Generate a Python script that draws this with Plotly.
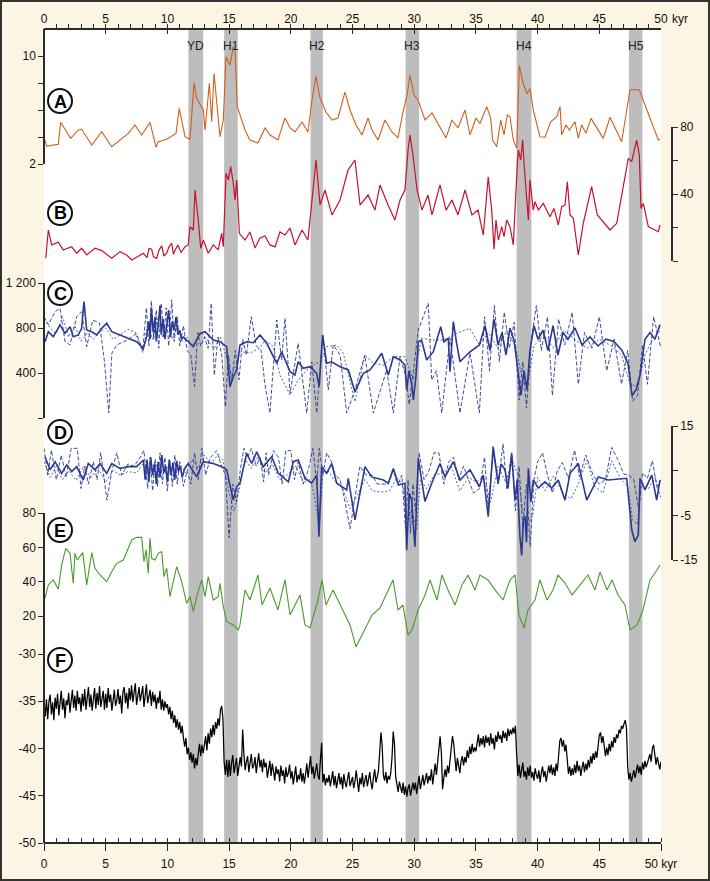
import plotly.graph_objects as go

# ---------------- data (ages in kyr before present) ----------------
event_names = ["YD", "H1", "H2", "H3", "H4", "H5"]
event_start = [11.7, 14.6, 21.6, 29.3, 38.3, 47.4]
event_end = [12.9, 15.7, 22.6, 30.4, 39.5, 48.5]

# A
a_age = [0.08, 0.22, 1.16, 1.35, 2.16, 2.78, 3.05, 3.87, 4.68, 5.49,
         6.83, 7.37, 7.92, 8.59, 9.08, 9.26, 9.94, 10.70, 10.96, 11.43,
         11.83, 12.16, 12.37, 12.91, 13.05, 13.40, 13.59, 13.78, 14.26, 14.53,
         14.75, 15.07, 15.34, 15.48, 15.66, 16.29, 16.69, 17.34, 17.91, 18.31,
         18.96, 19.53, 19.94, 20.34, 20.91, 21.39, 21.72, 22.04, 22.37, 22.85,
         23.34, 23.82, 24.39, 24.80, 25.28, 25.77, 26.26, 26.58, 27.07, 27.63,
         28.20, 28.69, 29.09, 29.42, 29.66, 29.98, 30.31, 30.88, 31.44, 32.09,
         32.58, 33.06, 33.55, 34.12, 34.52, 35.01, 35.33, 35.88, 36.20, 36.36,
         36.69, 37.01, 37.28, 37.54, 37.76, 38.03, 38.31, 38.52, 38.82, 39.14,
         39.38, 39.65, 40.19, 40.60, 41.06, 41.55, 41.82, 41.95, 42.30, 42.57,
         43.03, 43.30, 43.57, 43.92, 44.33, 45.32, 45.87, 46.81, 47.49, 48.24,
         49.78, 49.92]
a_val = [3.78, 3.33, 3.46, 5.09, 3.90, 4.52, 4.57, 3.40, 4.39, 3.28,
         4.27, 4.89, 4.15, 5.09, 3.24, 3.65, 3.83, 4.27, 6.12, 4.02,
         3.83, 8.02, 6.87, 6.00, 4.52, 7.98, 5.13, 8.72, 4.02, 5.26,
         9.95, 9.33, 10.70, 10.44, 6.25, 4.52, 3.78, 3.56, 4.67, 4.15,
         3.78, 5.41, 4.67, 4.37, 5.11, 4.37, 6.74, 8.52, 6.89, 5.85,
         5.26, 5.41, 7.33, 6.00, 4.89, 4.15, 5.41, 4.52, 3.78, 5.26,
         4.37, 3.93, 5.85, 7.11, 8.59, 7.11, 6.74, 5.26, 5.78, 4.67,
         3.93, 5.26, 4.67, 6.00, 4.15, 5.41, 5.00, 6.25, 5.38, 3.78,
         3.28, 5.26, 4.15, 5.63, 5.50, 3.78, 3.16, 9.30, 8.00, 7.20,
         7.60, 6.00, 4.02, 3.98, 5.13, 5.50, 6.25, 4.15, 4.89, 4.52,
         5.13, 3.90, 4.89, 4.27, 5.38, 3.90, 5.46, 3.65, 7.50, 7.50,
         3.78, 3.83]

# B
b_age = [0.14, 0.35, 0.62, 1.16, 1.56, 2.24, 2.65, 3.05, 3.46, 4.13,
         4.68, 5.49, 6.16, 6.70, 7.11, 7.64, 8.05, 8.35, 8.51, 8.73,
         8.87, 9.13, 9.32, 9.54, 9.72, 9.94, 10.13, 10.35, 10.49, 10.62,
         10.86, 11.10, 11.43, 11.69, 11.83, 12.10, 12.24, 12.50, 12.70, 12.91,
         13.31, 13.72, 14.12, 14.40, 14.53, 14.75, 14.94, 15.13, 15.34, 15.48,
         15.62, 15.83, 16.29, 16.69, 17.10, 17.50, 17.91, 18.31, 18.72, 19.12,
         19.53, 19.94, 20.34, 20.91, 21.39, 21.72, 22.04, 22.37, 22.77, 23.34,
         23.99, 24.64, 25.20, 25.61, 26.26, 26.82, 27.23, 27.88, 28.44, 28.85,
         29.25, 29.50, 29.66, 29.90, 30.23, 30.63, 31.12, 31.44, 32.09, 32.58,
         33.06, 33.55, 34.12, 34.68, 35.17, 35.60, 36.00, 36.28, 36.47, 36.63,
         36.82, 37.09, 37.28, 37.50, 37.76, 38.03, 38.17, 38.36, 38.44, 38.63,
         38.79, 38.92, 39.25, 39.38, 39.65, 39.79, 40.06, 40.46, 41.00, 41.33,
         41.68, 41.95, 42.22, 42.41, 42.63, 42.90, 43.30, 43.70, 44.38, 44.84,
         45.87, 46.41, 47.35, 47.62, 48.03, 48.24, 48.38, 48.57, 48.97, 49.78,
         49.92]
b_val = [1.6, 18.5, 9.6, 11.2, 6.6, 8.5, 4.6, 7.6, 3.6, 7.6,
         6.2, 1.6, 5.6, 3.6, 0.6, 2.6, 4.6, 2.0, 7.5, 7.0,
         2.5, 1.6, 6.5, 9.0, 3.0, 4.6, 8.5, 10.6, 4.0, 6.6,
         9.5, 5.0, 8.5, 9.6, 20.5, 18.5, 42.4, 24.5, 7.6, 12.5,
         4.6, 9.6, 6.6, 16.5, 8.5, 52.4, 48.4, 56.3, 46.4, 36.4,
         48.4, 16.5, 12.5, 17.3, 7.8, 13.7, 14.9, 9.6, 8.4, 17.3,
         15.5, 19.7, 9.6, 18.5, 12.5, 36.4, 60.3, 33.4, 42.4, 27.5,
         36.4, 54.3, 60.3, 33.4, 39.4, 30.4, 45.4, 33.4, 24.5, 36.4,
         42.4, 66.3, 75.2, 63.3, 42.4, 30.4, 39.4, 27.5, 45.4, 30.4,
         36.4, 27.5, 42.4, 27.5, 30.4, 15.5, 50.3, 30.4, 7.0, 24.5,
         12.5, 20.5, 14.5, 24.5, 20.5, 9.6, 32.4, 58.3, 66.3, 60.3,
         72.2, 56.3, 24.5, 48.4, 30.4, 35.4, 30.4, 34.4, 26.4, 31.4,
         21.5, 32.4, 33.4, 47.3, 27.5, 25.5, 3.6, 22.5, 44.4, 27.5,
         18.5, 22.5, 61.3, 59.3, 72.2, 63.3, 31.4, 34.4, 20.5, 17.5,
         21.5]

# C: solid, dashed, dotted records
c_age = [0.08, 0.35, 0.75, 1.30, 1.70, 2.11, 2.37, 2.78, 3.05, 3.24,
         3.46, 3.87, 4.27, 4.68, 5.08, 5.49, 6.16, 6.83, 7.51, 8.05,
         8.32, 8.50, 8.60, 8.70, 8.85, 9.00, 9.10, 9.25, 9.40, 9.50,
         9.65, 9.80, 9.95, 10.10, 10.25, 10.40, 10.55, 10.70, 10.85, 11.00,
         11.15, 11.30, 11.56, 12.10, 12.64, 13.05, 13.72, 14.26, 14.80, 15.07,
         15.34, 15.62, 15.88, 16.43, 16.96, 17.50, 18.05, 18.86, 19.26, 19.94,
         20.34, 20.60, 21.00, 21.56, 22.10, 22.30, 22.58, 22.90, 23.30, 23.99,
         24.66, 25.20, 25.88, 26.42, 26.82, 27.37, 27.90, 28.31, 28.85, 29.25,
         29.39, 29.58, 29.80, 29.93, 30.15, 30.33, 30.60, 31.01, 31.55, 32.15,
         32.41, 32.76, 32.90, 33.17, 33.44, 33.71, 34.52, 35.28, 35.74, 36.14,
         36.47, 36.79, 37.12, 37.44, 37.76, 38.09, 38.41, 38.65, 38.90, 39.14,
         39.38, 39.71, 40.03, 40.44, 40.84, 41.25, 41.65, 42.06, 42.46, 43.03,
         43.60, 44.25, 44.89, 45.54, 46.19, 46.84, 47.33, 47.65, 47.97, 48.30,
         48.70, 49.11, 49.51, 49.92]
c_val = [678, 767, 723, 827, 753, 812, 723, 738, 797, 1034,
         782, 767, 738, 797, 842, 767, 738, 708, 678, 619,
         723, 860, 700, 980, 760, 900, 680, 820, 1000, 740,
         880, 700, 820, 960, 720, 860, 780, 900, 740, 780,
         700, 720, 693, 634, 753, 767, 693, 678, 634, 278,
         367, 427, 649, 678, 669, 738, 664, 486, 589, 412,
         382, 500, 442, 456, 397, 278, 738, 486, 500, 456,
         427, 234, 397, 427, 486, 575, 382, 545, 516, 471,
         249, 420, 300, 160, 380, 678, 693, 516, 589, 812,
         678, 708, 412, 856, 664, 500, 589, 649, 820, 600,
         880, 650, 760, 560, 800, 690, 420, 200, 420, 250,
         600, 820, 700, 780, 600, 820, 560, 760, 700, 800,
         650, 720, 640, 700, 680, 600, 480, 200, 250, 380,
         700, 760, 700, 830]

cd_age = [0.00, 0.35, 0.90, 1.30, 1.70, 2.10, 2.65, 3.05, 3.46, 3.95,
          4.50, 4.90, 5.25, 5.50, 5.90, 6.70, 7.50, 8.00, 8.30, 8.50,
          8.70, 8.90, 9.10, 9.30, 9.50, 9.70, 9.90, 10.10, 10.35, 10.55,
          10.80, 11.00, 11.30, 11.60, 11.90, 12.20, 12.45, 12.70, 13.00, 13.30,
          13.55, 13.80, 14.10, 14.40, 14.70, 14.95, 15.20, 15.50, 15.80, 16.10,
          16.40, 16.80, 17.20, 17.60, 17.90, 18.31, 18.86, 19.26, 19.53, 19.94,
          20.60, 21.29, 21.70, 22.10, 22.58, 23.04, 23.44, 24.00, 24.53, 25.20,
          26.00, 26.69, 27.77, 28.31, 28.85, 29.30, 29.60, 29.90, 30.33, 31.14,
          31.42, 31.80, 32.23, 32.90, 33.71, 34.52, 35.28, 35.70, 36.10, 36.50,
          36.90, 37.30, 37.70, 38.10, 38.50, 38.80, 39.10, 39.50, 39.90, 40.30,
          40.80, 41.20, 41.70, 42.20, 42.80, 43.30, 43.80, 44.40, 45.00, 45.60,
          46.20, 46.80, 47.30, 47.70, 48.10, 48.50, 48.90, 49.40, 50.00]
cd_val = [900, 830, 945, 975, 680, 650, 900, 945, 634, 870,
          845, 500, 45, 575, 650, 690, 750, 600, 980, 640,
          1040, 700, 960, 620, 1020, 720, 980, 640, 1050, 680,
          900, 640, 820, 600, 560, 280, 760, 640, 720, 620,
          1020, 380, 720, 560, 100, 560, 320, 600, 340, 700,
          560, 900, 640, 600, 300, 44, 871, 516, 887, 220,
          664, 44, 500, 44, 738, 249, 649, 560, 44, 249,
          560, 44, 427, 44, 545, 380, 120, 400, 782, 1020,
          338, 420, 44, 711, 44, 578, 44, 900, 420, 1000,
          500, 940, 620, 850, 160, 500, 90, 700, 1000, 600,
          900, 200, 880, 650, 940, 300, 760, 620, 900, 420,
          700, 300, 600, 150, 200, 650, 300, 900, 620]

ct_age = [0.0, 0.5, 1.0, 1.5, 2.0, 2.5, 3.0, 3.5, 4.0, 4.5,
          5.0, 5.6, 6.2, 6.8, 7.4, 8.0, 8.4, 8.8, 9.2, 9.6,
          10.0, 10.4, 10.8, 11.2, 11.6, 12.0, 12.4, 12.8, 13.3, 13.8,
          14.3, 14.8, 15.2, 15.6, 15.88, 16.69, 17.5, 17.91, 18.58, 19.12,
          19.94, 20.6, 21.56, 22.37, 22.91, 23.72, 24.26, 25.2, 26.01, 26.69,
          27.5, 28.31, 29.25, 29.93, 30.6, 31.55, 32.36, 33.44, 34.52, 35.28,
          36.0, 36.8, 37.5, 38.2, 38.7, 39.2, 39.7, 40.5, 41.3, 42.1,
          43.0, 44.0, 45.0, 46.0, 46.8, 47.5, 48.1, 48.7, 49.4, 50.0]
ct_val = [880, 800, 750, 900, 720, 820, 680, 760, 700, 760,
          800, 700, 740, 790, 760, 580, 840, 700, 880, 720,
          860, 700, 820, 680, 720, 640, 700, 760, 680, 620,
          720, 520, 380, 480, 589, 578, 622, 693, 634, 382,
          204, 338, 456, 500, 634, 649, 575, 145, 560, 486,
          471, 545, 545, 338, 708, 693, 693, 753, 797, 649,
          760, 620, 780, 640, 380, 300, 640, 740, 620, 780,
          700, 620, 700, 640, 560, 300, 280, 560, 720, 780]

# D: solid, dashed, dotted records
d_age = [0.08, 0.49, 0.90, 1.43, 1.84, 2.24, 2.65, 3.18, 3.59, 4.13,
         4.54, 5.08, 5.49, 6.16, 6.83, 7.51, 8.05, 8.20, 8.35, 8.50,
         8.65, 8.80, 8.95, 9.10, 9.25, 9.40, 9.55, 9.70, 9.85, 10.00,
         10.15, 10.30, 10.45, 10.60, 10.75, 10.90, 11.05, 11.20, 11.40, 11.69,
         12.37, 12.91, 13.72, 14.40, 14.80, 15.34, 15.62, 15.88, 16.43, 16.83,
         17.24, 17.77, 18.45, 18.99, 19.80, 20.20, 20.61, 21.15, 21.69, 22.10,
         22.28, 22.50, 22.91, 23.31, 23.72, 24.53, 24.66, 25.20, 26.01, 26.55,
         27.50, 27.90, 28.31, 28.72, 29.25, 29.39, 29.60, 29.80, 29.90, 30.06,
         30.33, 30.87, 31.42, 32.09, 32.50, 33.17, 33.71, 34.52, 35.28, 35.60,
         36.00, 36.40, 36.80, 37.05, 37.36, 37.60, 37.90, 38.17, 38.35, 38.57,
         38.71, 38.85, 38.98, 39.10, 39.25, 39.45, 39.65, 40.06, 40.60, 41.14,
         41.68, 42.22, 42.63, 43.30, 43.98, 44.92, 45.73, 47.22, 47.63, 47.89,
         48.16, 48.30, 48.70, 49.25, 49.65, 49.92]
d_val = [8.1, 5.2, 7.0, 4.4, 6.3, 4.8, 5.9, 2.9, 6.6, 5.2,
         6.6, 4.4, 6.6, 5.5, 5.9, 5.9, 7.4, 3.0, 7.5, 2.5,
         8.0, 4.0, 6.5, 2.0, 7.0, 3.5, 8.5, 4.5, 6.0, 2.5,
         7.5, 4.0, 6.8, 3.0, 7.2, 4.8, 6.0, 3.5, 5.5, 6.6,
         3.6, 7.0, 6.6, 5.9, 5.2, -1.6, 1.4, 2.2, 8.9, 6.6,
         9.2, 5.9, 8.1, 4.4, 2.5, 7.0, 7.4, 3.3, 2.2, 4.0,
         -9.8, 5.9, 4.4, 6.6, 2.2, 0.7, 3.3, -6.0, 5.9, 3.6,
         2.9, 2.2, 5.5, 1.8, 2.2, -12.8, 0.0, -1.6, -6.0, -12.0,
         7.8, -1.9, 2.2, 6.6, 3.6, 7.0, 2.9, 5.2, 1.4, 4.0,
         -5.3, 10.4, 2.2, 6.5, 5.2, 1.0, 8.9, -1.6, 3.0, -9.8,
         -14.0, -6.0, -5.3, -11.0, 5.5, -2.0, 2.9, 1.1, 2.5, 1.1,
         2.9, -1.6, 4.4, 6.6, -1.6, 3.6, 2.9, 3.3, -8.3, -10.9,
         -9.4, 3.3, 0.7, 4.0, -1.6, 2.9]

dd_age = [0.0, 0.3, 0.6, 1.0, 1.4, 1.8, 2.2, 2.7, 3.0, 3.3,
          3.6, 4.0, 4.3, 4.6, 5.1, 5.5, 5.9, 6.3, 6.8, 7.3,
          7.8, 8.1, 8.4, 8.6, 8.8, 9.0, 9.2, 9.4, 9.6, 9.8,
          10.0, 10.2, 10.4, 10.6, 10.8, 11.0, 11.3, 11.6, 11.9, 12.2,
          12.5, 12.8, 13.1, 13.5, 14.0, 14.4, 14.7, 15.0, 15.3, 15.6,
          15.9, 16.2, 16.5, 16.8, 17.2, 17.5, 17.8, 18.0, 18.2, 18.6,
          19.0, 19.3, 19.6, 20.0, 20.3, 20.6, 21.0, 21.4, 21.8, 22.1,
          22.3, 22.6, 22.9, 23.3, 23.6, 24.0, 24.4, 24.8, 25.2, 25.6,
          26.1, 26.6, 27.0, 27.5, 27.9, 28.3, 28.7, 29.0, 29.3, 29.5,
          29.7, 29.9, 30.1, 30.4, 30.8, 31.2, 31.6, 32.0, 32.4, 32.8,
          33.2, 33.6, 34.0, 34.4, 34.8, 35.3, 35.7, 36.0, 36.4, 36.8,
          37.2, 37.5, 37.9, 38.2, 38.5, 38.8, 39.1, 39.4, 39.7, 40.0,
          40.4, 40.8, 41.2, 41.6, 42.0, 42.5, 43.0, 43.4, 43.9, 44.5,
          45.0, 45.5, 46.0, 46.5, 47.0, 47.4, 47.8, 48.2, 48.5, 48.9,
          49.3, 49.7, 50.0]
dd_val = [10, 4, 9.6, 3, 8.5, 3.5, 10, 10, 1, 6,
          2, 7, 3, 9, -1.6, 5, 9, 4, 6.5, 6,
          8, 9.5, 1, 8, 0.5, 7.5, 1.5, 9, 2, 8,
          0.5, 7, 1.5, 8.5, 2, 7, 1.5, 5, 2, 9,
          3, 10, 4, 8, 9.5, 6, 4, -10, 2, -2,
          5, 10, 8, 10, 6, 8, 2.5, 9, 4, 9.5,
          8, 2, 9.5, 9.5, 3, 7, 2, 5, 10, 2,
          10, 4, 9, 7, 4, 3, -2, -8, -1, 6,
          4, 4, 2, 2, 2, 5, 2, 4, -8, 3,
          -9, 2, -4, 9, 3, 5, 9, 9, 2, 7,
          8, 3, 6, 3, 0, 1, 8, -3, 9, 2,
          11, 1, 9, -4, 6, -8, 2, -12, 3, 7,
          9, 4, 0, 5, 6.8, 3.3, 9.6, 3.6, 8.5, 4,
          2, 3, 10.2, 7.5, 4.2, 4, 3, -4, 4.5, 3.3,
          7.2, 1, 3]

dt_age = [0.0, 0.5, 1.0, 1.5, 2.0, 2.6, 3.2, 3.8, 4.4, 5.0,
          5.6, 6.2, 6.8, 7.5, 8.0, 8.5, 9.0, 9.5, 10.0, 10.5,
          11.0, 11.5, 12.0, 12.5, 13.0, 13.5, 14.0, 14.5, 15.0, 15.4,
          15.8, 16.3, 16.8, 17.3, 17.9, 18.5, 19.1, 19.7, 20.4, 21.0,
          21.6, 22.0, 22.3, 22.6, 23.0, 23.5, 24.2, 24.8, 25.3, 26.0,
          26.6, 27.3, 28.0, 28.6, 29.1, 29.4, 29.8, 30.2, 30.5, 31.0,
          31.6, 32.3, 33.0, 33.7, 34.4, 35.0, 35.6, 36.2, 36.8, 37.4,
          38.0, 38.4, 38.8, 39.2, 39.6, 40.0, 40.6, 41.3, 42.0, 42.7,
          43.3, 44.0, 44.6, 45.3, 46.0, 46.7, 47.3, 47.7, 48.1, 48.4,
          49.0, 49.5, 50.0]
dt_val = [7, 3.5, 6, 3, 5, 2.8, 6, 3.5, 5.5, 2.5,
          5, 4, 4.8, 4.5, 6.5, 4, 7, 3.5, 6, 3,
          6.5, 4.5, 7.5, 5.5, 8.5, 6.5, 8.2, 7.5, 0, -4,
          0.5, 7.5, 5.5, 8, 4.5, 6.5, 3, 4, 6, 2.5,
          3, -2, -7.5, 4, 5, 3, 1, -3.5, -1, 3,
          0.5, 0.2, 0.5, 3.5, 1.5, -6, -4, -8, 3, 1,
          4, 4.5, 6, 0.5, 3.5, 2.5, 3.5, -2, 6, 2.5,
          7, 4, -4, -7, -5, 3.5, 0.5, 3.8, 0.2, -1.3,
          2, 7.4, 1.5, 0, 7.2, 3.3, 1.5, -6, -7, 2.5,
          1, 3.5, -1]

# E
e_age = [0.08, 0.35, 0.75, 1.16, 1.43, 1.76, 2.11, 2.37, 2.51, 2.70,
         3.14, 3.46, 3.87, 4.13, 4.54, 5.08, 5.49, 5.89, 6.43, 7.11,
         7.51, 7.92, 8.10, 8.27, 8.45, 8.59, 8.73, 9.00, 9.26, 9.54,
         9.72, 9.94, 10.21, 10.48, 10.75, 11.16, 11.56, 11.83, 12.10, 12.37,
         12.78, 13.05, 13.31, 13.72, 14.12, 14.26, 14.53, 14.80, 15.34, 15.75,
         15.88, 16.29, 16.69, 17.34, 17.67, 18.31, 18.96, 19.53, 19.94, 20.75,
         21.15, 21.56, 22.20, 22.53, 22.85, 23.42, 23.99, 24.80, 25.28, 26.01,
         26.58, 27.23, 27.88, 28.28, 28.69, 29.09, 29.50, 29.82, 30.31, 30.88,
         31.28, 31.85, 32.25, 32.74, 33.31, 33.87, 34.36, 34.93, 35.33, 35.98,
         36.55, 37.20, 37.76, 38.17, 38.49, 38.90, 39.22, 39.79, 40.19, 40.76,
         41.25, 41.65, 42.22, 42.79, 43.44, 44.08, 44.65, 45.06, 45.62, 46.03,
         46.52, 47.08, 47.49, 48.06, 48.54, 49.11, 49.68, 49.92]
e_val = [30.3, 38.1, 41.0, 35.6, 49.7, 59.4, 56.5, 39.1, 56.5, 52.6,
         56.9, 38.1, 56.9, 47.8, 43.9, 40.0, 45.8, 50.7, 52.6, 64.3,
         65.8, 65.8, 51.6, 58.5, 44.9, 65.3, 53.6, 52.6, 56.5, 57.5,
         42.9, 47.8, 31.3, 39.1, 48.7, 40.0, 27.4, 31.3, 22.5, 31.3,
         41.0, 31.3, 42.9, 29.3, 31.3, 39.1, 25.4, 16.7, 14.8, 11.9,
         14.8, 35.2, 29.3, 43.9, 26.4, 36.3, 23.5, 41.0, 20.6, 32.2,
         14.8, 13.0, 29.3, 41.0, 26.4, 35.2, 26.4, 14.8, 2.0, 13.0,
         20.6, 24.7, 35.2, 41.0, 23.5, 26.4, 8.9, 11.9, 23.5, 32.2,
         41.0, 29.3, 43.9, 35.2, 26.4, 38.1, 43.9, 35.2, 43.9, 41.0,
         35.2, 29.3, 41.0, 43.9, 20.6, 13.0, 23.5, 29.3, 41.0, 29.3,
         35.2, 43.9, 39.2, 32.2, 38.1, 43.9, 35.2, 45.6, 35.2, 41.0,
         32.2, 26.4, 11.9, 14.8, 23.5, 41.0, 46.8, 49.7]

# F: one value every 0.1 kyr from 0 to 50 kyr (one row per kyr)
f_step = 0.1
f_val = [
    -35.2, -36.6, -34.8, -36.9, -35.0, -34.3, -36.4, -35.1, -37.0, -34.6,
    -35.8, -34.2, -36.5, -35.0, -33.9, -35.9, -34.7, -36.8, -34.9, -35.4,
    -34.1, -36.2, -35.0, -33.8, -35.7, -34.4, -36.0, -33.9, -35.3, -34.6,
    -36.1, -34.2, -35.5, -33.7, -35.9, -34.8, -33.5, -35.6, -34.3, -36.0,
    -34.5, -33.6, -35.8, -34.1, -35.4, -33.4, -35.6, -34.7, -33.9, -35.9,
    -34.2, -35.7, -33.6, -35.1, -34.3, -36.0, -34.6, -33.8, -35.5, -34.9,
    -33.7, -35.3, -34.4, -36.3, -34.0, -33.5, -35.2, -34.1, -35.8, -33.6,
    -34.9, -33.3, -35.1, -34.0, -33.1, -35.4, -34.3, -33.5, -35.0, -34.2,
    -33.4, -35.6, -34.1, -33.2, -35.2, -34.6, -33.8, -35.5, -34.0, -35.1,
    -34.3, -35.8, -34.6, -35.2, -33.9, -35.9, -34.8, -36.0, -35.0, -35.7,
    -35.3, -36.4, -35.6, -36.9, -36.0, -37.3, -36.5, -37.8, -36.9, -38.0,
    -37.2, -38.4, -37.6, -38.9, -39.8, -38.9, -40.6, -39.9, -41.2, -40.4,
    -41.5, -40.6, -42.1, -41.0, -41.8, -40.6, -39.5, -40.8, -39.6, -40.5,
    -39.8, -38.7, -40.2, -38.4, -39.5, -37.9, -38.8, -37.5, -38.6, -37.2,
    -37.9, -36.8, -37.6, -35.9, -35.5, -36.8, -41.5, -42.8, -41.2, -43.0,
    -41.2, -42.9, -41.5, -40.7, -42.6, -41.8, -41.0, -42.9, -41.6, -40.9,
    -41.9, -38.0, -40.6, -42.3, -41.4, -40.8, -42.5, -41.5, -40.6, -42.1,
    -41.8, -40.9, -42.6, -41.5, -40.5, -42.0, -41.2, -42.5, -41.1, -42.0,
    -41.5, -43.1, -42.0, -41.3, -42.9, -41.6, -42.4, -43.4, -41.9, -42.7,
    -42.2, -43.5, -41.8, -42.9, -42.3, -43.7, -42.0, -43.0, -42.6, -41.7,
    -43.2, -42.4, -43.8, -42.5, -41.9, -43.6, -42.8, -43.3, -42.1, -43.5,
    -42.6, -43.7, -42.3, -41.6, -43.1, -42.2, -40.8, -42.7, -41.9, -43.2,
    -42.4, -41.6, -42.9, -43.3, -41.2, -39.4, -43.6, -42.7, -43.9, -43.1,
    -43.6, -42.8, -44.0, -43.1, -42.4, -43.9, -42.9, -44.2, -43.3, -42.6,
    -43.8, -43.0, -44.3, -42.7, -43.6, -44.1, -43.2, -42.5, -44.0, -43.4,
    -43.0, -44.2, -43.5, -42.3, -43.9, -44.6, -43.1, -43.8, -42.6, -44.1,
    -43.4, -42.8, -44.0, -43.2, -42.5, -43.7, -44.3, -43.0, -42.2, -43.6,
    -43.1, -42.4, -40.5, -38.3, -39.6, -42.8, -43.4, -42.5, -43.7, -42.9,
    -43.3, -42.6, -41.0, -38.2, -39.5, -43.0, -43.8, -44.6, -43.5, -44.2,
    -44.7, -43.6, -44.9, -44.0, -45.1, -44.2, -43.8, -45.0, -44.1, -43.6,
    -44.4, -43.6, -44.8, -43.9, -42.9, -44.3, -43.4, -42.8, -43.9, -43.1,
    -42.6, -43.7, -42.9, -43.4, -42.2, -43.8, -42.5, -41.6, -42.8, -41.5,
    -40.2, -38.7, -40.4, -44.3, -43.1, -42.2, -43.0, -41.8, -42.6, -41.4,
    -40.6, -38.7, -39.5, -41.2, -42.4, -41.0, -41.9, -42.6, -41.3, -40.8,
    -41.8, -40.9, -41.5, -40.2, -41.0, -39.8, -40.6, -39.5, -40.4, -39.9,
    -40.3, -39.2, -38.5, -39.8, -38.9, -39.6, -38.7, -39.9, -38.6, -39.4,
    -38.8, -39.7, -38.4, -39.5, -38.9, -40.1, -38.6, -39.3, -38.2, -39.0,
    -38.6, -39.4, -38.1, -38.9, -38.3, -39.2, -37.9, -38.7, -38.0, -38.5,
    -37.8, -38.4, -37.6, -40.6, -42.9, -41.7, -43.1, -42.3, -41.5, -43.0,
    -42.4, -43.3, -42.0, -42.9, -41.8, -43.1, -42.5, -43.4, -42.1, -42.8,
    -43.2, -42.3, -43.6, -42.6, -41.9, -43.0, -42.4, -43.5, -42.7, -41.8,
    -42.6, -41.7, -42.8, -42.0, -42.9, -41.6, -42.4, -40.5, -39.2, -38.9,
    -39.8, -39.1, -40.3, -39.6, -41.8, -42.7, -41.9, -42.9, -42.1, -42.8,
    -41.7, -42.6, -41.3, -42.4, -41.8, -42.9, -42.0, -41.4, -42.5, -41.6,
    -42.3, -41.2, -42.0, -40.8, -41.6, -40.5, -41.2, -40.3, -41.0, -39.6,
    -38.6, -38.3, -39.4, -38.7, -39.6, -40.8, -39.9, -40.7, -39.5, -40.3,
    -39.2, -39.9, -38.8, -39.4, -38.5, -38.9, -38.0, -38.4, -37.6, -37.9,
    -37.4, -37.0, -37.8, -41.9, -43.3, -42.6, -43.5, -42.8, -42.3, -43.1,
    -42.5, -41.7, -42.6, -41.9, -42.8, -41.5, -42.2, -41.3, -42.0, -41.6,
    -41.2, -40.6, -41.4, -40.0, -39.6, -40.8, -41.7, -40.9, -41.8, -42.2,
    -41.4,
]
f_age = [round(i * f_step, 1) for i in range(len(f_val))]

for ages, vals in [(a_age, a_val), (b_age, b_val), (c_age, c_val), (cd_age, cd_val),
                   (ct_age, ct_val), (d_age, d_val), (dd_age, dd_val), (dt_age, dt_val),
                   (e_age, e_val)]:
    assert len(ages) == len(vals), (len(ages), len(vals))

# ---------------- page geometry (pixels of the 710x881 page) ----------------
W, H = 710, 881
L, R = 44, 672          # paper x extent (left axes / right axes)
TOP, BOT = 29, 843      # plot area top / bottom
X_END = 661             # pixel of 50 kyr


def px_x(px):
    return (px - L) / (R - L)


def px_y(py):
    return (BOT - py) / (BOT - TOP)


FONT = "Liberation Sans, Arial, sans-serif"
INK = "#2b2b2b"
NAVY = "#2b3990"


def yaxis(px_hi, px_lo, rng, vals, text, side="left"):
    return dict(domain=[px_y(px_lo), px_y(px_hi)], range=rng, anchor="free",
                position=0 if side == "left" else 1, side=side, automargin=False,
                tickmode="array", tickvals=vals, ticktext=text,
                ticks="outside", ticklen=5, tickwidth=1.2, tickcolor=INK,
                showline=True, linecolor=INK, linewidth=1.5,
                showgrid=False, zeroline=False,
                tickfont=dict(family=FONT, size=12, color="#111"))


# E axis: 80 at y=513, 20 at y=616, extended down to meet F at y=654
e_low = 80 - (654 - 513) * 60 / (616 - 513)

fig = go.Figure()


def line(x, y, yax, color, width, dash="solid"):
    fig.add_trace(go.Scatter(x=x, y=y, mode="lines", xaxis="x", yaxis=yax,
                             line=dict(color=color, width=width, dash=dash),
                             showlegend=False, hoverinfo="skip"))


line(a_age, a_val, "y", "#d0601c", 1.1)
line(b_age, b_val, "y2", "#c4122f", 1.2)
line(ct_age, ct_val, "y3", NAVY, 0.8, "2px,2px")
line(cd_age, cd_val, "y3", NAVY, 0.9, "4px,2px")
line(c_age, c_val, "y3", NAVY, 1.6)
line(dt_age, dt_val, "y4", NAVY, 0.8, "2px,2px")
line(dd_age, dd_val, "y4", NAVY, 0.9, "4px,2px")
line(d_age, d_val, "y4", NAVY, 1.6)
line(e_age, e_val, "y5", "#4a9a2c", 1.1)
line(f_age, f_val, "y6", "#000000", 1.25)
# empty trace so the top age axis is attached to a subplot
fig.add_trace(go.Scatter(x=[], y=[], xaxis="x2", yaxis="y", showlegend=False,
                         hoverinfo="skip"))

xdom = [0, px_x(X_END)]
major = list(range(0, 51, 5))
common_x = dict(domain=xdom, range=[0, 50], anchor="free", showgrid=False, zeroline=False,
                automargin=False, tickmode="array", tickvals=major,
                tickcolor=INK, tickwidth=1.2, linecolor=INK, linewidth=1.5, showline=True,
                tickfont=dict(family=FONT, size=12, color="#111"))

shapes = [dict(type="rect", xref="paper", yref="paper", x0=0, x1=px_x(X_END), y0=0, y1=1,
               fillcolor="white", line=dict(width=0), layer="below")]
for s, e in zip(event_start, event_end):
    shapes.append(dict(type="rect", xref="x", yref="paper", x0=s, x1=e, y0=0, y1=1,
                       fillcolor="#bdbdbd", line=dict(width=0), layer="below"))
# outer frame of the figure
shapes.append(dict(type="rect", xref="paper", yref="paper",
                   x0=px_x(1), x1=px_x(W - 1), y0=px_y(H - 1), y1=px_y(1),
                   line=dict(color="#333333", width=2), layer="above"))

annotations = []
for name, s, e in zip(event_names, event_start, event_end):
    annotations.append(dict(x=(s + e) / 2, y=px_y(46), xref="x", yref="paper", text=name,
                            xanchor="center", yanchor="middle", showarrow=False,
                            font=dict(family=FONT, size=12, color="#222")))

panel_letters = ["A", "B", "C", "D", "E", "F"]
panel_px = [101, 213, 293, 432, 530, 660]
for letter, py in zip(panel_letters, panel_px):
    shapes.append(dict(type="circle", xref="paper", yref="paper",
                       xsizemode="pixel", ysizemode="pixel",
                       xanchor=px_x(60), yanchor=px_y(py), x0=-12, x1=12, y0=-12, y1=12,
                       line=dict(color="#111", width=2), fillcolor="white", layer="above"))
    annotations.append(dict(x=px_x(60), y=px_y(py + 0.5), xref="paper", yref="paper",
                            text=f"<b>{letter}</b>", showarrow=False,
                            xanchor="center", yanchor="middle",
                            font=dict(family=FONT, size=18, color="#000")))

annotations.append(dict(x=px_x(680), y=px_y(19), xref="paper", yref="paper", text="kyr",
                        xanchor="center", yanchor="middle", showarrow=False,
                        font=dict(family=FONT, size=12, color="#111")))

fig.update_layout(
    width=W, height=H, autosize=False,
    margin=dict(l=L, r=W - R, t=TOP, b=H - BOT, pad=0, autoexpand=False),
    paper_bgcolor="#fdf5e3", plot_bgcolor="rgba(0,0,0,0)",
    showlegend=False,
    xaxis=dict(common_x, side="bottom", position=0,
               ticktext=[str(v) for v in major[:-1]] + ["50 kyr"],
               ticks="outside", ticklen=7, ticklabelstandoff=3,
               minor=dict(tickmode="linear", tick0=0, dtick=1, ticks="inside", ticklen=4,
                          tickcolor=INK, tickwidth=1.2)),
    xaxis2=dict(common_x, overlaying="x", side="top", position=1,
                ticktext=[str(v) for v in major],
                ticks="inside", ticklen=4,
                minor=dict(tickmode="linear", tick0=0, dtick=1, ticks="outside", ticklen=4,
                           tickcolor=INK, tickwidth=1.2)),
    yaxis=yaxis(TOP, 164, [2, 2 + 8 * (164 - TOP) / (164 - 56)],
                [2, 4, 6, 8, 10], ["2", "", "", "", "10"]),
    yaxis2=yaxis(127, 261, [0, 80], [0, 20, 40, 60, 80], ["", "", "40", "", "80"], "right"),
    yaxis3=yaxis(283, 418, [0, 1200], [0, 400, 800, 1200], ["", "400", "800", "1 200"]),
    yaxis4=yaxis(426, 560, [-15, 15], [-15, -5, 5, 15], ["-15", "-5", "", "15"], "right"),
    yaxis5=yaxis(513, 654, [e_low, 80], [20, 40, 60, 80], ["20", "40", "60", "80"]),
    yaxis6=yaxis(654, BOT, [-50, -30], [-50, -45, -40, -35, -30],
                 ["-50", "-45", "-40", "-35", "-30"]),
    shapes=shapes,
    annotations=annotations,
)

fig.write_html("out.html", config={"displayModeBar": False},
               post_script="document.body.style.margin = '0';")
